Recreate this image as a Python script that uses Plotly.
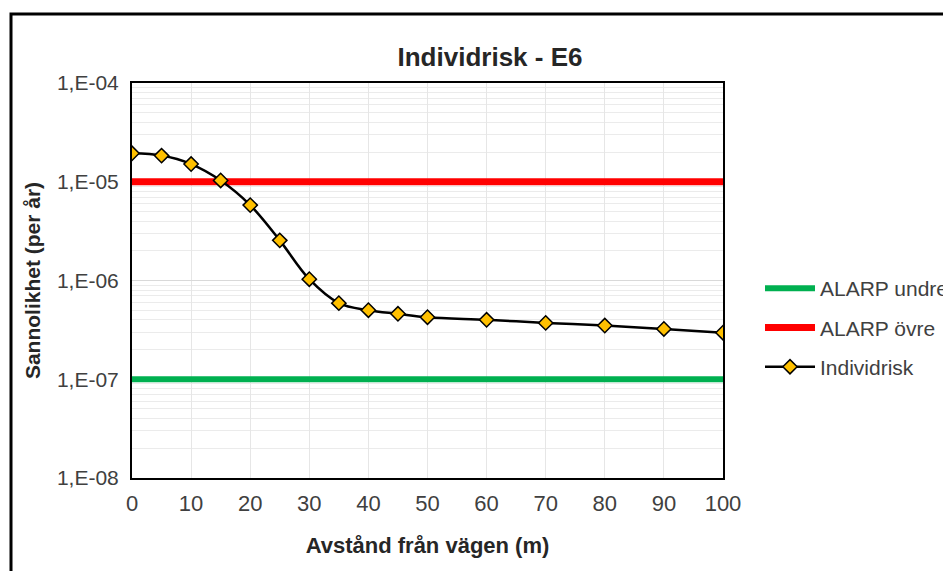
import plotly.graph_objects as go

# Data
distance = [0, 5, 10, 15, 20, 25, 30, 35, 40, 45, 50, 60, 70, 80, 90, 100]
individrisk = [1.94e-5, 1.84e-5, 1.51e-5, 1.03e-5, 5.8e-6, 2.55e-6, 1.03e-6,
               5.9e-7, 5.0e-7, 4.6e-7, 4.25e-7, 4.0e-7, 3.72e-7, 3.5e-7, 3.23e-7, 2.96e-7]
alarp_x = [0, 100]
alarp_undre = [1e-7, 1e-7]
alarp_ovre = [1e-5, 1e-5]
y_tickvals = [1e-8, 1e-7, 1e-6, 1e-5, 1e-4]
y_ticktext = ["1,E-08", "1,E-07", "1,E-06", "1,E-05", "1,E-04"]
x_tickvals = [0, 10, 20, 30, 40, 50, 60, 70, 80, 90, 100]

minor_vals = [k * 10.0 ** e for e in range(-8, -4) for k in range(2, 10)]

FONT = "Liberation Sans, Arial, sans-serif"
OFF = 8  # page body margin
W, H = 951 - OFF, 571 - OFF
L, R, T, B = 132 - OFF, 723 - OFF, 83 - OFF, 478 - OFF
pw, ph = R - L, B - T

fig = go.Figure()
fig.add_trace(go.Scatter(x=alarp_x, y=alarp_undre, mode="lines", name="ALARP undre",
                         line=dict(color="#00B050", width=6), legendgroup="a"))
fig.add_trace(go.Scatter(x=alarp_x, y=alarp_ovre, mode="lines", name="ALARP övre",
                         line=dict(color="#FF0000", width=7), legendgroup="b"))
fig.add_trace(go.Scatter(x=distance, y=individrisk, mode="lines+markers", name="Individrisk",
                         line=dict(color="#000000", width=2.5, shape="spline"),
                         marker=dict(symbol="diamond", size=11, color="#FFC000",
                                     line=dict(color="#000000", width=1.5)),
                         legendgroup="c"))

fig.update_layout(
    width=W, height=H,
    margin=dict(l=L, r=W - R, t=T, b=H - B, autoexpand=False),
    paper_bgcolor="white", plot_bgcolor="white",
    font=dict(family=FONT, size=22, color="#404040"),
    title=dict(text="<b>Individrisk - E6</b>", x=(490 - OFF) / W, xanchor="center",
               y=1 - (57 - OFF) / H, yanchor="middle",
               font=dict(family=FONT, size=26, color="#262626")),
    showlegend=True,
    legend=dict(x=(760 - OFF - L) / pw, xanchor="left", y=(B - (268 - OFF)) / ph, yanchor="top",
                font=dict(family=FONT, size=21, color="#404040"),
                bgcolor="rgba(0,0,0,0)", tracegroupgap=9, itemwidth=50),
    xaxis=dict(range=[0, 100], tickmode="array", tickvals=x_tickvals,
               showgrid=True, gridcolor="#E6E6E6", gridwidth=1,
               showline=True, linecolor="#000000", linewidth=2, mirror=True,
               ticks="", zeroline=False, ticklabelstandoff=5,
               tickfont=dict(family=FONT, size=22, color="#404040"),
               title=dict(text="<b>Avstånd från vägen (m)</b>", standoff=22,
                          font=dict(family=FONT, size=22, color="#262626"))),
    yaxis=dict(type="log", range=[-8, -4], tickmode="array", tickvals=y_tickvals,
               ticktext=y_ticktext,
               showgrid=True, gridcolor="#D9D9D9", gridwidth=1,
               minor=dict(tickmode="array", tickvals=minor_vals, showgrid=True,
                          gridcolor="#EBEBEB", gridwidth=1, ticks=""),
               showline=True, linecolor="#000000", linewidth=2, mirror=True,
               ticks="", zeroline=False, ticklabelstandoff=7,
               tickfont=dict(family=FONT, size=21, color="#404040"),
               title=dict(text="<b>Sannolikhet (per år)</b>", standoff=11,
                          font=dict(family=FONT, size=21, color="#262626"))),
    shapes=[dict(type="rect", xref="paper", yref="paper",
                 x0=(11 - OFF - L) / pw, x1=(960 - OFF - L) / pw,
                 y0=(B - 580) / ph, y1=(B - (14 - OFF)) / ph,
                 line=dict(color="#000000", width=3), layer="below")],
)

fig.write_html("out.html")
